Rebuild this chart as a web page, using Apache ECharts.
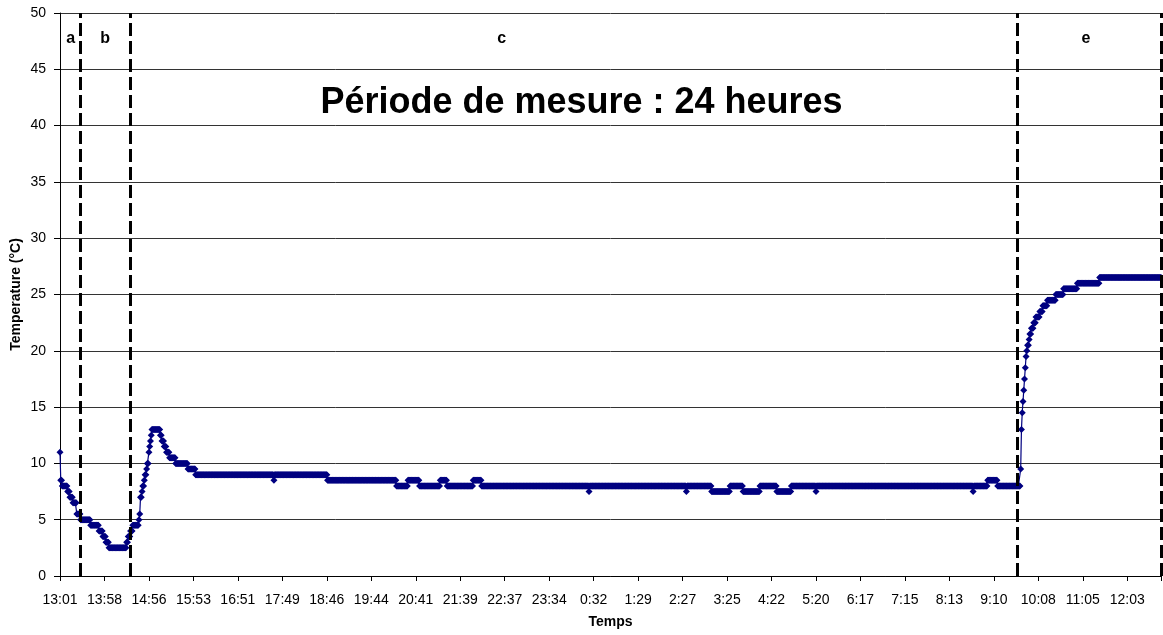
<!DOCTYPE html>
<html>
<head>
<meta charset="utf-8">
<script src="https://cdn.jsdelivr.net/npm/echarts@6/dist/echarts.min.js"></script>
<style>
  html, body { margin: 0; padding: 0; background: #fff; }
  #chart { width: 1163px; height: 635px; }
</style>
</head>
<body>
<div id="chart"></div>
<script>
// x axis is the sample number, 58 samples between two time labels
var samplesPerTick = 58;
var lastSample = 1436;
var tickLabels = [
  '13:01', '13:58', '14:56', '15:53', '16:51', '17:49', '18:46', '19:44', '20:41',
  '21:39', '22:37', '23:34', '0:32', '1:29', '2:27', '3:25', '4:22', '5:20',
  '6:17', '7:15', '8:13', '9:10', '10:08', '11:05', '12:03'
];

// temperature readings (°C), written as runs: level + number of samples
var runLevels = [
  11, 8.5, 8, 7.5, 7, 6.5, 5.5, 5, 4.5, 4, 3.5, 3, 2.5, 3, 3.5, 4, 4.5, 5, 5.5,
  7, 7.5, 8, 8.5, 9, 9.5, 10, 11, 11.5, 12, 12.5, 13, 12.5, 12, 11.5, 11, 10.5, 10, 9.5,
  9, 8.5, 9, 8.5, 8, 8.5, 8, 8.5, 8, 8.5, 8, 7.5, 8, 7.5, 8, 7.5, 8, 7.5, 8, 7.5, 8,
  7.5, 8, 7.5, 8, 8.5, 8, 9.5, 13, 14.5, 15.5, 16.5, 17.5, 18.5, 19.5, 20, 20.5, 21,
  21.5, 22, 22.5, 23, 23.5, 24, 24.5, 25, 25.5, 26, 26.5
];
var runCounts = [
  1, 2, 7, 3, 4, 5, 5, 13, 11, 5, 4, 4, 23, 2, 3, 3, 8, 1, 1,
  2, 1, 2, 1, 2, 1, 2, 1, 1, 1, 1, 11, 2, 3, 3, 4, 8, 16, 10,
  102, 1, 69, 90, 15, 15, 27, 9, 34, 11, 140, 1, 126, 1, 32, 24, 17, 22, 22, 19, 32,
  1, 204, 1, 18, 13, 30, 1, 1, 1, 1, 1, 1, 1, 1, 1, 2, 1,
  2, 3, 3, 5, 4, 6, 11, 10, 18, 29, 81
];

// phase boundaries (dashed lines) and phase letters
var phaseBounds = [27, 91, 1249, 1436];
var phaseNames = ['a', 'b', 'c', 'e'];
var phaseNameAt = [14, 59, 576, 1338];

var font = "'Liberation Sans', Arial, sans-serif";

var temps = [];
runLevels.forEach(function(v, i) {
  for (var k = 0; k < runCounts[i]; k++) temps.push(v);
});
var points = temps.map(function(v, i) { return [i, v]; });

var chart = echarts.init(document.getElementById('chart'), null, { renderer: 'canvas' });

chart.setOption({
  animation: false,
  backgroundColor: '#fff',
  textStyle: { fontFamily: font },
  title: {
    text: 'Période de mesure : 24 heures',
    left: 'center',
    top: 80,
    textStyle: { fontFamily: font, fontSize: 36, fontWeight: 'bold', color: '#000' }
  },
  grid: { left: 60, right: 2, top: 13, bottom: 59, outerBoundsMode: 'none' },
  xAxis: {
    type: 'value',
    min: 0,
    max: lastSample,
    interval: samplesPerTick,
    name: 'Temps',
    nameLocation: 'middle',
    nameGap: 39,
    nameMoveOverlap: false,
    nameTextStyle: { fontFamily: font, fontSize: 14, fontWeight: 'bold', color: '#000' },
    axisLine: { show: true, lineStyle: { color: '#000', width: 1 } },
    axisTick: { show: true, length: 5, lineStyle: { color: '#000' } },
    axisLabel: {
      color: '#000',
      fontSize: 14,
      fontFamily: font,
      margin: 17,
      formatter: function(v) {
        var k = Math.round(v / samplesPerTick);
        if (k * samplesPerTick !== v) return '';
        return tickLabels[k] || '';
      }
    },
    splitLine: { show: false }
  },
  yAxis: {
    type: 'value',
    min: 0,
    max: 50,
    interval: 5,
    name: 'Temperature (°C)',
    nameLocation: 'middle',
    nameGap: 37,
    nameMoveOverlap: false,
    nameTextStyle: { fontFamily: font, fontSize: 14, fontWeight: 'bold', color: '#000' },
    axisLine: { show: true, lineStyle: { color: '#000', width: 1 } },
    axisTick: { show: true, length: 6, lineStyle: { color: '#000' } },
    axisLabel: { color: '#000', fontSize: 14, fontFamily: font, margin: 14 },
    splitLine: { show: true, lineStyle: { color: '#333', width: 1 } }
  },
  series: [{
    name: 'Temperature',
    type: 'line',
    data: points,
    symbol: 'diamond',
    symbolSize: 7,
    showSymbol: true,
    showAllSymbol: true,
    lineStyle: { color: '#000080', width: 1.2 },
    itemStyle: { color: '#000080' },
    z: 3,
    markLine: {
      silent: true,
      symbol: ['none', 'none'],
      label: { show: false },
      lineStyle: { color: '#000', width: 3, type: [13, 5] },
      data: phaseBounds.map(function(b) { return { xAxis: b }; })
    },
    markPoint: {
      silent: true,
      symbol: 'rect',
      symbolSize: 1,
      itemStyle: { color: 'rgba(0,0,0,0)' },
      label: {
        show: true,
        position: 'inside',
        color: '#000',
        fontFamily: font,
        fontSize: 16,
        fontWeight: 'bold',
        formatter: '{b}'
      },
      data: phaseNames.map(function(n, i) {
        return { name: n, coord: [phaseNameAt[i], 47.7] };
      })
    }
  }]
});

window.addEventListener('resize', function() { chart.resize(); });
</script>
</body>
</html>
